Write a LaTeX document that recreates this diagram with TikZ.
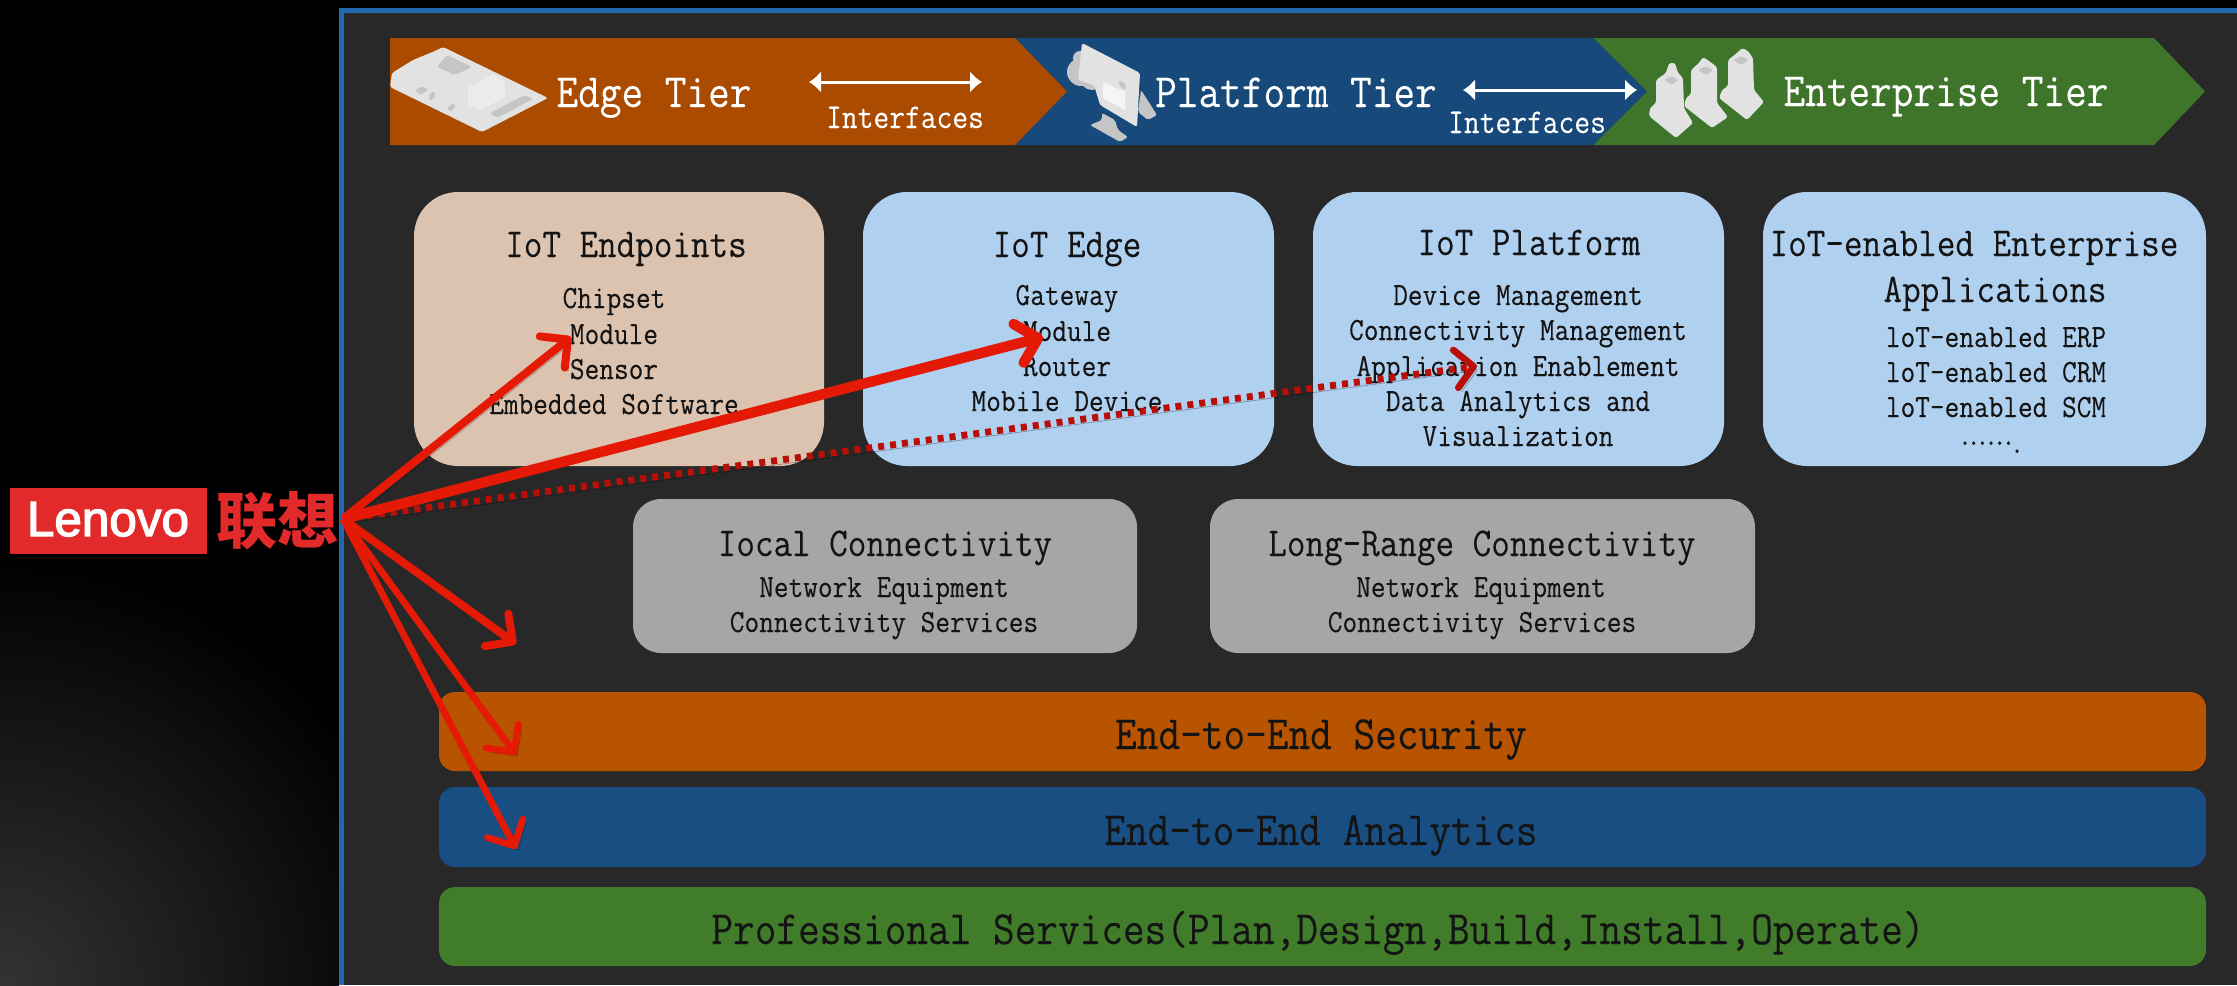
\documentclass[tikz,border=0pt]{standalone}
\usepackage{fontspec}
\usetikzlibrary{arrows.meta}
\setmonofont[FakeStretch=0.88,FakeBold=0.12]{Latin Modern Mono}
\newfontfamily\cjkfont{Noto Sans CJK SC}
\newfontfamily\logofont[FakeBold=2.6]{Liberation Sans}
\newcommand{\mono}[1]{\fontsize{#1}{#1}\selectfont\ttfamily}
\newcommand{\dotk}{.\kern-3pt}
\definecolor{panelbg}{HTML}{282828}
\definecolor{framebl}{HTML}{2268B0}
\definecolor{tierorange}{HTML}{AB4B00}
\definecolor{tierblue}{HTML}{17497A}
\definecolor{tiergreen}{HTML}{3E752B}
\definecolor{peach}{HTML}{DCC3B0}
\definecolor{skyb}{HTML}{B0D0F0}
\definecolor{greyb}{HTML}{A6A6A6}
\definecolor{barorange}{HTML}{B85300}
\definecolor{barblue}{HTML}{194E82}
\definecolor{bargreen}{HTML}{407C2A}
\definecolor{lenored}{HTML}{E22A2A}
\definecolor{arrowred}{HTML}{E51A06}
\definecolor{dashred}{HTML}{B81008}
\definecolor{iconlt}{HTML}{E2E2E2}
\definecolor{iconmd}{HTML}{C4C6C6}
\definecolor{inkdark}{HTML}{141414}
\tikzset{
  x=0.5pt,y=-0.5pt,
  bigcard/.style={rounded corners=22pt,inner sep=0,minimum height=137pt},
  midcard/.style={rounded corners=14pt,inner sep=0,minimum height=77pt,fill=greyb},
  barbox/.style={rounded corners=8pt,inner sep=0,minimum width=883.5pt},
  tiertext/.style={anchor=base,inner sep=0,text=white,font=\mono{23.9pt}},
  iftext/.style={anchor=base,inner sep=0,text=white,font=\mono{17.4pt}},
  cardtitle/.style={anchor=base,inner sep=0,text=inkdark,font=\mono{20.5pt}},
  carditem/.style={anchor=base,inner sep=0,text=inkdark,font=\mono{16.2pt}},
  bartext/.style={anchor=base,inner sep=0,text=inkdark,font=\mono{23.9pt}},
  whitearrow/.style={white,line width=1.5pt,{Latex[length=6pt,width=11pt]}-{Latex[length=6pt,width=11pt]}},
  redshadow/.style={preaction={draw=black,draw opacity=.28,transform canvas={shift={(1.6pt,-2pt)}}}},
  redarrow/.style={arrowred,line width=#1,-{Straight Barb[length=10pt,width=20pt,round]},redshadow},
  redarrow/.default=3pt,
  dasharrow/.style={dashred,line width=3.4pt,dash pattern=on 3pt off 3pt,-{Straight Barb[length=9pt,width=19pt,round]},redshadow},
  iconl/.style={fill=iconlt,rounded corners=1.2pt},
  iconm/.style={fill=iconmd,rounded corners=1pt},
}
\begin{document}
\begin{tikzpicture}
\useasboundingbox (0,0) rectangle (2237,985);
% backdrop
\fill[black] (0,0) rectangle (2237,985);
\begin{scope}
  \clip (0,480) rectangle (339,985);
  \shade[inner color=black!80!white,outer color=black] (0,985) circle [radius=430];
\end{scope}
% panel
\fill[framebl] (339,8) rectangle (2237,985);
\fill[panelbg] (344,13) rectangle (2237,985);
% tier ribbons
\fill[tiergreen] (1593,38) -- (2154,38) -- (2205,91.5) -- (2154,145) -- (1593,145) -- (1647,91.5) -- cycle;
\fill[tierblue] (1015,38) -- (1593,38) -- (1647,91.5) -- (1593,145) -- (1015,145) -- (1067,91.5) -- cycle;
\fill[tierorange] (390,38) -- (1015,38) -- (1067,91.5) -- (1015,145) -- (390,145) -- cycle;
% circuit board icon
\path[iconl] (443,47) -- (548,98) -- (482,132) -- (390,87) -- (392,73) -- (413,60) -- (435,51) -- cycle;
\path[iconm] (437,67) -- (447,55) -- (472,67) -- (455,75) -- cycle;
\path[fill=white!92!black] (468,87) -- (493,75) -- (505,82) -- (505,97) -- (480,110) -- (468,105) -- cycle;
\path[iconm] (490,113) -- (525,95) -- (533,99) -- (497,118) -- cycle;
\path[iconm] (415,90) -- (423,86) -- (428,90) -- (420,95) -- cycle;
\path[iconm] (428,97) -- (433,91) -- (436,95) -- (431,101) -- cycle;
\path[iconm] (447,108) -- (453,103) -- (456,107) -- (450,112) -- cycle;
% monitor icon
\path[iconm] (1080,58) circle [radius=7];
\path[iconm] (1081,72) circle [radius=14];
\path[iconm] (1092,78) circle [radius=12];
\path[iconm] (1141,90) -- (1157,115) -- (1148,120) -- (1138,112) -- cycle;
\path[iconm] (1102,113) -- (1115,120) -- (1118,130) -- (1128,137) -- (1120,142) -- (1090,125) -- (1102,120) -- cycle;
\path[iconl] (1082,43) -- (1140,73) -- (1137,127) -- (1100,105) -- (1094,85) -- (1078,80) -- cycle;
\path[fill=white!96!black] (1103,82) -- (1125,92) -- (1125,110) -- (1103,98) -- cycle;
\path[iconm] (1119,80) -- (1126,84) -- (1126,90) -- (1119,86) -- cycle;
% buildings icon
\path[iconl] (1656,80) -- (1666,73) -- (1669,63) -- (1675,63) -- (1678,73) -- (1683,78) -- (1684,108) -- (1693,123) -- (1676,138) -- (1649,116) -- (1650,108) -- (1656,103) -- cycle;
\path[iconl] (1691,70) -- (1699,63) -- (1703,57) -- (1709,61) -- (1717,67) -- (1717,103) -- (1728,117) -- (1712,128) -- (1684,106) -- (1686,98) -- (1691,94) -- cycle;
\path[iconl] (1728,60) -- (1737,53) -- (1742,48) -- (1748,51) -- (1753,58) -- (1754,90) -- (1764,102) -- (1747,120) -- (1719,98) -- (1722,90) -- (1728,86) -- cycle;
\path[iconm] (1664,80) -- (1672,76) -- (1678,80) -- (1672,85) -- cycle;
\path[iconm] (1698,70) -- (1706,66) -- (1713,70) -- (1706,75) -- cycle;
\path[iconm] (1733,60) -- (1741,56) -- (1749,60) -- (1741,65) -- cycle;
% tier labels
\node[tiertext] (edgetier) at (654,107) {Edge Tier};
\node[tiertext] (platformtier) at (1296,107) {Platform Tier};
\node[tiertext] (enterprisetier) at (1946,106) {Enterprise Tier};
\node[iftext] (ifone) at (905,128) {Interfaces};
\node[iftext] (iftwo) at (1527,133) {Interfaces};
\coordinate (ifoneL) at (809,82);
\coordinate (ifoneR) at (982,82);
\coordinate (iftwoL) at (1463,90);
\coordinate (iftwoR) at (1637,90);
\draw[whitearrow] (ifoneL) -- (ifoneR);
\draw[whitearrow] (iftwoL) -- (iftwoR);
% cards
\node[bigcard,fill=peach,minimum width=205pt] (cardendpoints) at (619,329) {};
\node[bigcard,fill=skyb,minimum width=205.5pt] (cardedge) at (1068.5,329) {};
\node[bigcard,fill=skyb,minimum width=205.5pt] (cardplatform) at (1518.5,329) {};
\node[bigcard,fill=skyb,minimum width=221.5pt] (cardenterprise) at (1984.5,329) {};
\node[midcard,minimum width=252pt] (cardlocal) at (885,576) {};
\node[midcard,minimum width=272.5pt] (cardlong) at (1482.5,576) {};
\node[barbox,fill=barorange,minimum height=39.5pt] (barsec) at (1322.5,731.5) {};
\node[barbox,fill=barblue,minimum height=40pt] (barana) at (1322.5,827) {};
\node[barbox,fill=bargreen,minimum height=39.5pt] (barpro) at (1322.5,926.5) {};
% card text
\node[cardtitle] (t1) at (626,257) {IoT Endpoints};
\node[carditem] (t1a) at (614,308) {Chipset};
\node[carditem] (t1b) at (614,344) {Module};
\node[carditem] (t1c) at (614,379) {Sensor};
\node[carditem] (t1d) at (614,414) {Embedded Software};
\node[cardtitle] (t2) at (1067,257) {IoT Edge};
\node[carditem] (t2a) at (1067,305) {Gateway};
\node[carditem] (t2b) at (1067,341) {Module};
\node[carditem] (t2c) at (1067,376) {Router};
\node[carditem] (t2d) at (1067,411) {Mobile Device};
\node[cardtitle] (t3) at (1529,255) {IoT Platform};
\node[carditem] (t3a) at (1518,305) {Device Management};
\node[carditem] (t3b) at (1518,340) {Connectivity Management};
\node[carditem] (t3c) at (1518,376) {Application Enablement};
\node[carditem] (t3d) at (1518,411) {Data Analytics and};
\node[carditem] (t3e) at (1518,446) {Visualization};
\node[cardtitle] (t4) at (1974,256) {IoT-enabled Enterprise};
\node[cardtitle] (t4x) at (1995,302) {Applications};
\node[carditem] (t4a) at (1996,347) {loT-enabled ERP};
\node[carditem] (t4b) at (1996,382) {loT-enabled CRM};
\node[carditem] (t4c) at (1996,417) {loT-enabled SCM};
\node[carditem] (t4d) at (1991,453) {\raisebox{4pt}{\dotk\dotk\dotk\dotk\dotk\dotk}.};
\node[cardtitle] (t5) at (885,556) {Iocal Connectivity};
\node[carditem] (t5a) at (884,597) {Network Equipment};
\node[carditem] (t5b) at (884,632) {Connectivity Services};
\node[cardtitle] (t6) at (1482,556) {Long-Range Connectivity};
\node[carditem] (t6a) at (1481,597) {Network Equipment};
\node[carditem] (t6b) at (1482,632) {Connectivity Services};
\node[bartext] (b1) at (1321,749) {End-to-End Security};
\node[bartext] (b2) at (1321,845) {End-to-End Analytics};
\node[bartext] (b3) at (1318,944) {Professional Services(Plan,Design,Build,Install,Operate)};
% logo
\node[fill=lenored,inner sep=0,minimum width=98.5pt,minimum height=33pt] (logobox) at (108.5,521) {};
\node[anchor=base,inner sep=0,text=white,font=\fontsize{24.7pt}{24.7pt}\selectfont\logofont] (logotext) at (108,536) {Lenovo};
\node[inner sep=0,text=lenored,font=\fontsize{30.5pt}{30.5pt}\selectfont\cjkfont\bfseries] (logocjk) at (277,521) {联想};
% arrows
\coordinate (hub) at (343,519);
\coordinate (tipa) at (571,337);
\coordinate (tipb) at (1043,337);
\coordinate (tipc) at (1477,366);
\coordinate (tipd) at (516,644);
\coordinate (tipe) at (516,755);
\coordinate (tipf) at (516,849);
\draw[dasharrow] (hub) -- (tipc);
\draw[redarrow=4pt] (hub) -- (tipa);
\draw[redarrow=5.2pt] (hub) -- (tipb);
\draw[redarrow=4pt] (hub) -- (tipd);
\draw[redarrow=3.4pt] (hub) -- (tipe);
\draw[redarrow=3.4pt] (hub) -- (tipf);
\end{tikzpicture}
\end{document}
